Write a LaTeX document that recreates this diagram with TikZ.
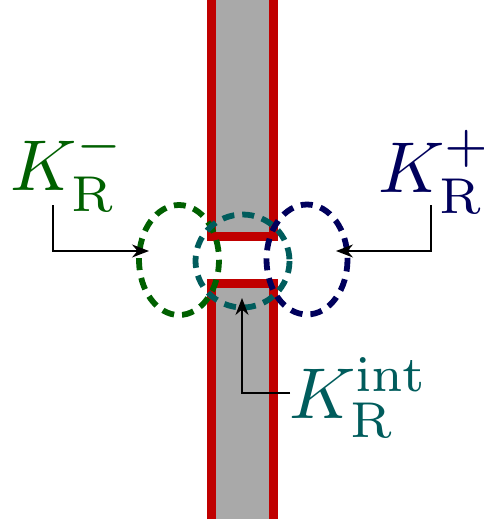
\documentclass[tikz,border=0pt]{standalone}
\usepackage{graphicx}
\usetikzlibrary{arrows.meta}
\definecolor{kred}{RGB}{192,0,0}
\definecolor{kgray}{RGB}{169,169,169}
\definecolor{kgreen}{RGB}{0,96,0}
\definecolor{kteal}{RGB}{0,92,92}
\definecolor{knavy}{RGB}{0,0,92}
\newcommand{\biglab}[1]{\scalebox{3.6}{#1}}
\begin{document}
\begin{tikzpicture}[x=0.5pt,y=-0.5pt,
  wall/.style={draw=kred,line width=4.5pt,line join=miter},
  loop/.style={dash pattern=on 6pt off 4pt,line width=2.9pt},
  conn/.style={draw=black,line width=0.65pt,-{Stealth[length=8.5pt,width=6.5pt]}},
  lab/.style={anchor=base west,inner sep=0pt}]
\useasboundingbox (0,0) rectangle (483,525);
% strip
\fill[kgray] (211,-5) rectangle (273.7,236);
\fill[kgray] (211,283.5) rectangle (273.7,519);
\draw[wall] (211,-5) -- (211,236) -- (273.7,236) -- (273.7,-5);
\draw[wall] (211,519) -- (211,283.5) -- (273.7,283.5) -- (273.7,519);
% loops
\draw[loop,draw=kgreen] (179,260) ellipse [x radius=40, y radius=55];
\draw[loop,draw=kteal] (242.5,261) ellipse [x radius=47, y radius=46.5];
\draw[loop,draw=knavy] (307,259.5) ellipse [x radius=40.5, y radius=55];
% labels
\node[lab,text=kgreen] (lm) at (10,190) {\biglab{$K_{\mathrm{R}}^{-}$}};
\node[lab,text=knavy] (lp) at (378,192) {\biglab{$K_{\mathrm{R}}^{+}$}};
\node[lab,text=kteal] (li) at (289,418) {\biglab{$K_{\mathrm{R}}^{\mathrm{int}}$}};
% connector ends
\coordinate (sm) at (53,205);
\coordinate (tm) at (149,251);
\coordinate (sp) at (431,205);
\coordinate (tp) at (336,251);
\coordinate (si) at (290,393);
\coordinate (ti) at (242,298);
\draw[conn] (sm) |- (tm);
\draw[conn] (sp) |- (tp);
\draw[conn] (si) -| (ti);
\end{tikzpicture}
\end{document}
